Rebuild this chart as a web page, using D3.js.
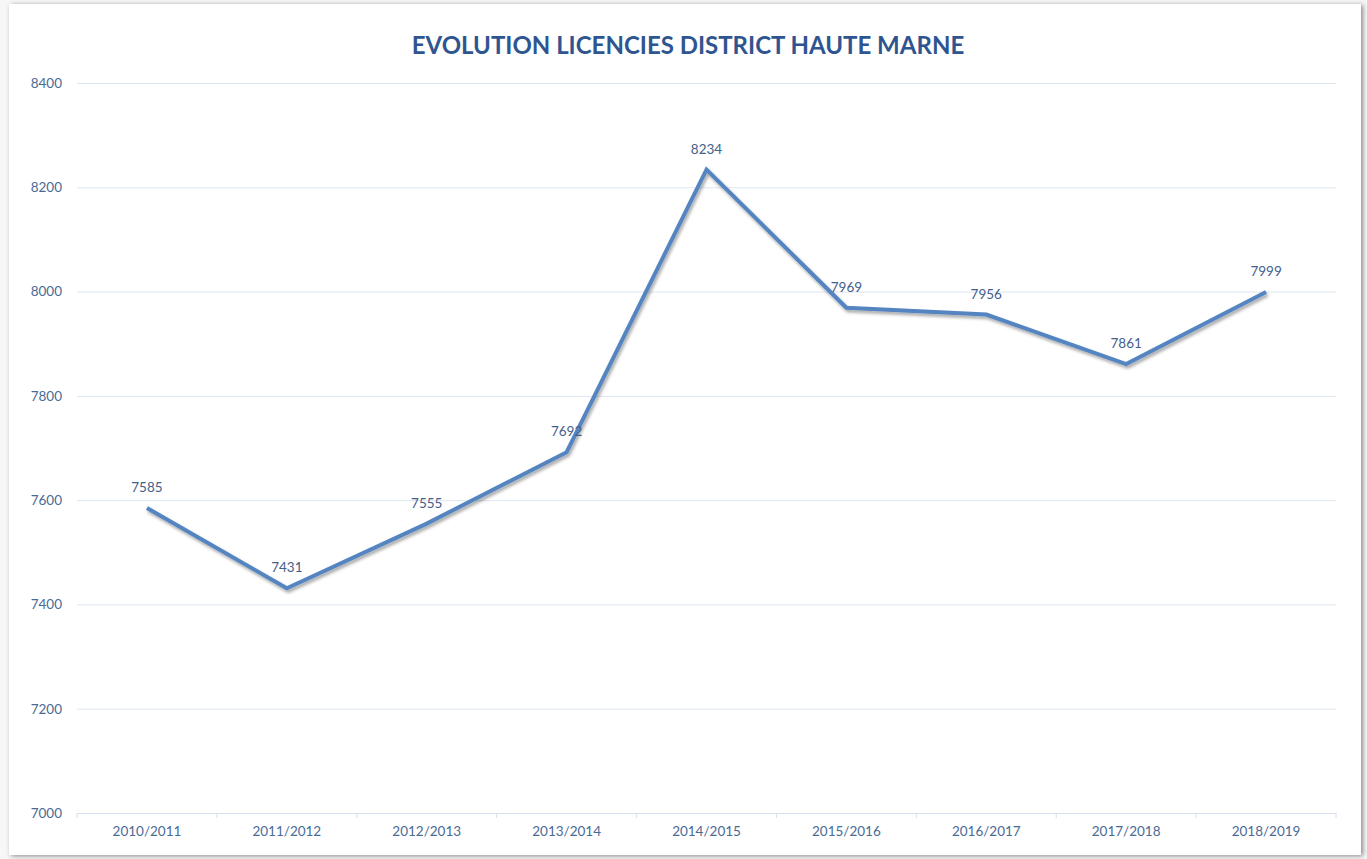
<!DOCTYPE html>
<html>
<head>
<meta charset="utf-8">
<script src="https://cdn.jsdelivr.net/npm/d3@7"></script>
<style>
  html, body { margin: 0; padding: 0; background: #f7f7f7; }
  svg { display: block; font-family: Lato, "Open Sans", sans-serif; }
</style>
</head>
<body>
<script>
const seasons = ["2010/2011", "2011/2012", "2012/2013", "2013/2014", "2014/2015",
                 "2015/2016", "2016/2017", "2017/2018", "2018/2019"];
const licences = [7585, 7431, 7555, 7692, 8234, 7969, 7956, 7861, 7999];
const yTicks = [7000, 7200, 7400, 7600, 7800, 8000, 8200, 8400];

const w = 1367, h = 859;
const plotLeft = 77, plotRight = 1336, plotTop = 83, plotBottom = 813;

const svg = d3.select("body").append("svg")
    .attr("width", w)
    .attr("height", h);

// drop shadows for the card and the line
const defs = svg.append("defs");
const cardShadow = defs.append("filter").attr("id", "cardShadow")
    .attr("x", "-5%").attr("y", "-5%").attr("width", "110%").attr("height", "110%");
cardShadow.append("feDropShadow")
    .attr("dx", 2).attr("dy", 1).attr("stdDeviation", 2.5)
    .attr("flood-color", "#000").attr("flood-opacity", 0.45);

const lineShadow = defs.append("filter").attr("id", "lineShadow")
    .attr("x", "-10%").attr("y", "-10%").attr("width", "120%").attr("height", "120%");
lineShadow.append("feDropShadow")
    .attr("dx", 1.5).attr("dy", 2.5).attr("stdDeviation", 1.8)
    .attr("flood-color", "#000").attr("flood-opacity", 0.35);

// white card
svg.append("rect")
    .attr("x", 9).attr("y", 4)
    .attr("width", 1352).attr("height", 851)
    .attr("fill", "#fff")
    .attr("filter", "url(#cardShadow)");

// title
svg.append("text")
    .attr("x", 688).attr("y", 54)
    .attr("text-anchor", "middle")
    .attr("font-size", 24)
    .attr("font-weight", "bold")
    .attr("fill", "#2f5590")
    .text("EVOLUTION LICENCIES DISTRICT HAUTE MARNE");

// scales
const x = d3.scaleBand()
    .domain(seasons)
    .range([plotLeft, plotRight]);

const y = d3.scaleLinear()
    .domain([7000, 8400])
    .range([plotBottom, plotTop]);

// horizontal gridlines + y labels
const yAxis = d3.axisLeft(y)
    .tickValues(yTicks)
    .tickFormat(d3.format("d"))
    .tickSize(-(plotRight - plotLeft))
    .tickPadding(15);

const gy = svg.append("g")
    .attr("transform", "translate(" + plotLeft + ",0)")
    .call(yAxis);
gy.select(".domain").remove();
gy.selectAll(".tick line").attr("stroke", "#dde6f2").attr("stroke-width", 1);
gy.selectAll(".tick text")
    .attr("font-size", 13.5)
    .attr("font-family", "Lato, 'Open Sans', sans-serif")
    .attr("fill", "#4a6a96");

// x axis with ticks at band edges
const xAxis = d3.axisBottom(x).tickSize(0).tickPadding(13);
const gx = svg.append("g")
    .attr("transform", "translate(0," + plotBottom + ")")
    .call(xAxis);
gx.select(".domain").attr("stroke", "#d6e0ee");
gx.selectAll(".tick text")
    .attr("font-size", 13.5)
    .attr("font-family", "Lato, 'Open Sans', sans-serif")
    .attr("fill", "#4a6a96");

const edges = seasons.map((s) => x(s)).concat([plotRight]);
gx.selectAll(".edge")
    .data(edges)
    .enter()
    .append("line")
    .attr("x1", (d) => d).attr("x2", (d) => d)
    .attr("y1", 0).attr("y2", 5)
    .attr("stroke", "#d6e0ee");

// the line
const cx = (d, i) => x(seasons[i]) + x.bandwidth() / 2;
const line = d3.line()
    .x((d, i) => cx(d, i))
    .y((d) => y(d));

svg.append("path")
    .datum(licences)
    .attr("d", line)
    .attr("fill", "none")
    .attr("stroke", "#5585c0")
    .attr("stroke-width", 4)
    .attr("stroke-linejoin", "miter")
    .attr("filter", "url(#lineShadow)");

// data labels
svg.selectAll(".label")
    .data(licences)
    .enter()
    .append("text")
    .attr("class", "label")
    .attr("x", (d, i) => cx(d, i))
    .attr("y", (d) => y(d) - 16)
    .attr("text-anchor", "middle")
    .attr("font-size", 13.5)
    .attr("fill", "#44608a")
    .text((d) => d);
</script>
</body>
</html>
